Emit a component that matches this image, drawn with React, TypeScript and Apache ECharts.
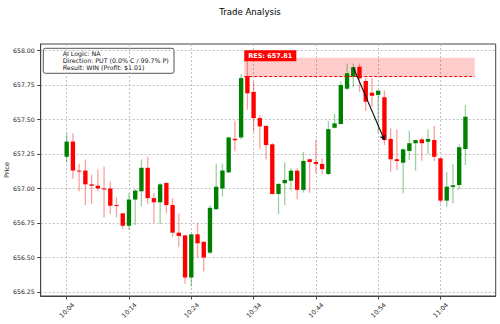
import React, { useEffect, useRef } from 'react';
import * as echarts from 'echarts';

const times = [
  '10:04','10:05','10:06','10:07','10:08','10:09','10:10','10:11','10:12','10:13',
  '10:14','10:15','10:16','10:17','10:18','10:19','10:20','10:21','10:22','10:23',
  '10:24','10:25','10:26','10:27','10:28','10:29','10:30','10:31','10:32','10:33',
  '10:34','10:35','10:36','10:37','10:38','10:39','10:40','10:41','10:42','10:43',
  '10:44','10:45','10:46','10:47','10:48','10:49','10:50','10:51','10:52','10:53',
  '10:54','10:55','10:56','10:57','10:58','10:59','11:00','11:01','11:02','11:03',
  '11:04','11:05','11:06','11:07','11:08',
];
const opens = [
  657.23, 657.34, 657.13, 657.13, 657.03, 657.02, 657.0, 657.0, 656.88, 656.82,
  656.73, 656.92, 656.98, 657.15, 656.93, 656.9, 657.04, 656.88, 656.68, 656.66,
  656.355, 656.668, 656.614, 656.535, 656.85, 657.0, 657.117, 657.36, 657.37, 657.815,
  657.7, 657.51, 657.453, 657.32, 656.96, 657.038, 657.056, 657.129, 656.99, 657.212,
  657.192, 657.178, 657.105, 657.44, 657.467, 657.723, 657.81, 657.882, 657.779, 657.694,
  657.678, 657.661, 657.359, 657.212, 657.187, 657.272, 657.328, 657.356, 657.339, 657.351,
  657.219, 656.912, 657.011, 657.025, 657.286,
];
const closes = [
  657.34, 657.13, 657.125, 657.03, 657.02, 657.0, 656.995, 656.875, 656.873, 656.73,
  656.92, 656.985, 657.15, 656.93, 656.9, 657.03, 656.88, 656.68, 656.656, 656.355,
  656.668, 656.603, 656.5, 656.86, 657.013, 657.13, 657.37, 657.35, 657.8, 657.69,
  657.51, 657.45, 657.315, 656.96, 657.033, 657.062, 657.129, 656.99, 657.2, 657.192,
  657.178, 657.14, 657.43, 657.472, 657.75, 657.835, 657.878, 657.798, 657.629, 657.672,
  657.709, 657.351, 657.212, 657.199, 657.284, 657.328, 657.351, 657.328, 657.359, 657.23,
  656.912, 657.013, 657.023, 657.299, 657.52,
];
const lows = [
  657.19, 657.07, 656.98, 656.88, 656.89, 656.98, 656.79, 656.815, 656.79, 656.705,
  656.7, 656.735, 656.87, 656.89, 656.75, 656.745, 656.82, 656.65, 656.575, 656.31,
  656.29, 656.5, 656.4, 656.525, 656.845, 656.94, 657.11, 657.27, 657.355, 657.57,
  657.41, 657.29, 657.21, 656.955, 656.815, 656.88, 656.985, 656.92, 656.97, 656.97,
  657.11, 657.105, 657.098, 657.436, 657.465, 657.714, 657.735, 657.7, 657.562, 657.594,
  657.4, 657.315, 657.122, 657.134, 656.965, 657.207, 657.129, 657.201, 657.25, 657.2,
  656.894, 656.868, 656.893, 656.99, 657.17,
];
const highs = [
  657.4, 657.4, 657.18, 657.21, 657.1, 657.14, 657.16, 657.05, 656.935, 656.825,
  656.965, 656.995, 657.21, 657.23, 656.965, 657.04, 657.045, 656.93, 656.82, 656.665,
  656.67, 656.75, 656.615, 656.88, 657.18, 657.18, 657.375, 657.49, 657.83, 657.945,
  657.775, 657.53, 657.46, 657.33, 657.04, 657.19, 657.146, 657.146, 657.265, 657.213,
  657.355, 657.22, 657.49, 657.54, 657.775, 657.905, 657.905, 657.905, 657.8, 657.8,
  657.71, 657.71, 657.436, 657.43, 657.29, 657.42, 657.352, 657.37, 657.43, 657.453,
  657.22, 657.12, 657.178, 657.32, 657.605,
];
const yTicks = [656.25, 656.5, 656.75, 657.0, 657.25, 657.5, 657.75, 658.0];
const xTickLabels = ['10:04', '10:14', '10:24', '10:34', '10:44', '10:54', '11:04'];
const resLevel = 657.81;
const resZoneTop = 657.947;
const resZoneFrom = 28.5;
const resZoneTo = 65.5;
const tradeEntry = { at: '10:50', price: 657.878 };
const tradeExit = { at: '10:55', price: 657.351 };
const infoLines = ['AI Logic: NA', 'Direction: PUT (0.0% C / 99.7% P)', 'Result: WIN (Profit: $1.01)'];
const resLabel = 'RES: 657.81';
const titleText = 'Trade Analysis';

const GREEN = '#008000';
const RED = '#ff0000';
const GREEN_WICK = 'rgba(0,128,0,0.38)';
const RED_WICK = 'rgba(255,0,0,0.38)';
const FONT = 'DejaVu Sans';

export default function App() {
  const ref = useRef<HTMLDivElement>(null);
  useEffect(() => {
    if (!ref.current) return;
    const chart = echarts.init(ref.current, undefined, { renderer: 'svg' });
    const ohlc = times.map((t, i) => [i, opens[i], closes[i], lows[i], highs[i]]);
    const xTickVals = xTickLabels.map((l) => times.indexOf(l));
    const option: any = {
      animation: false,
      backgroundColor: '#fff',
      textStyle: { fontFamily: FONT },
      title: {
        text: titleText,
        left: 'center',
        top: 2,
        textStyle: { fontFamily: FONT, fontSize: 8.6, fontWeight: 'normal', color: '#000' },
      },
      grid: {
        left: 40.7,
        right: 4.3,
        top: 44,
        bottom: 28,
        containLabel: false,
        outerBoundsMode: 'none',
        show: true,
        borderColor: '#444',
        borderWidth: 1,
        backgroundColor: '#fff',
      },
      xAxis: {
        type: 'value',
        min: -4.17,
        max: 68.86,
        axisLine: { show: true, onZero: false, lineStyle: { color: '#444', width: 1 } },
        axisTick: { show: true, customValues: xTickVals, length: 3.5, lineStyle: { color: '#444' } },
        axisLabel: {
          customValues: xTickVals,
          formatter: (v: number) => times[Math.round(v)],
          rotate: 45,
          align: 'center',
          verticalAlign: 'middle',
          fontSize: 6.3,
          color: '#222',
          fontFamily: FONT,
          margin: 14,
        },
        splitLine: { show: true, lineStyle: { type: [2, 2], color: '#b0b0b0', width: 0.8 } },
      },
      yAxis: {
        type: 'value',
        min: 656.221,
        max: 658.047,
        name: 'Price',
        nameLocation: 'middle',
        nameGap: 30,
        nameRotate: 90,
        nameMoveOverlap: false,
        nameTextStyle: { fontSize: 6.5, color: '#222', fontFamily: FONT },
        axisLine: { show: true, onZero: false, lineStyle: { color: '#444', width: 1 } },
        axisTick: { show: true, customValues: yTicks, length: 3.5, lineStyle: { color: '#444' } },
        axisLabel: {
          customValues: yTicks,
          formatter: (v: number) => v.toFixed(2),
          fontSize: 6.2,
          color: '#222',
          fontFamily: FONT,
          margin: 6,
        },
        splitLine: { show: true, lineStyle: { type: [2, 2], color: '#b0b0b0', width: 0.8 } },
      },
      series: [
        {
          type: 'custom',
          name: 'candles',
          data: ohlc,
          encode: { x: 0, y: [1, 2, 3, 4] },
          z: 3,
          renderItem: (params: any, api: any) => {
            const x = api.value(0);
            const o = api.value(1);
            const c = api.value(2);
            const l = api.value(3);
            const h = api.value(4);
            const pO = api.coord([x, o]);
            const pC = api.coord([x, c]);
            const pL = api.coord([x, l]);
            const pH = api.coord([x, h]);
            const up = c >= o;
            const w = api.size([0.7, 0])[0];
            const top = Math.min(pO[1], pC[1]);
            const bot = Math.max(pO[1], pC[1]);
            return {
              type: 'group',
              children: [
                {
                  type: 'line',
                  shape: { x1: pH[0], y1: pH[1], x2: pL[0], y2: pL[1] },
                  style: { stroke: up ? GREEN_WICK : RED_WICK, lineWidth: 1.3 },
                },
                {
                  type: 'rect',
                  shape: { x: pO[0] - w / 2, y: top, width: w, height: Math.max(bot - top, 1) },
                  style: { fill: up ? GREEN : RED },
                },
              ],
            };
          },
          markArea: {
            silent: true,
            itemStyle: { color: 'rgba(255,0,0,0.2)' },
            data: [[{ coord: [resZoneFrom, resLevel] }, { coord: [resZoneTo, resZoneTop] }]],
          },
        },
        {
          type: 'line',
          name: 'annotations',
          data: [],
          z: 4,
          markLine: {
            silent: true,
            label: { show: false },
            data: [
              [
                {
                  coord: [resZoneFrom, resLevel],
                  symbol: 'none',
                  lineStyle: { color: RED, type: [3, 2], width: 1 },
                },
                { coord: [resZoneTo, resLevel], symbol: 'none' },
              ],
              [
                {
                  coord: [times.indexOf(tradeEntry.at), tradeEntry.price],
                  symbol: 'none',
                  lineStyle: { color: '#111', type: 'solid', width: 1.1 },
                },
                { coord: [times.indexOf(tradeExit.at), tradeExit.price], symbol: 'arrow', symbolSize: 5 },
              ],
            ],
          },
          markPoint: {
            silent: true,
            symbol: 'rect',
            symbolSize: 0,
            data: [{
              coord: [resZoneFrom, resZoneTop],
              label: {
                show: true,
                formatter: resLabel,
                position: [0, 0],
                align: 'left',
                verticalAlign: 'bottom',
                offset: [0, 3.4],
                backgroundColor: RED,
                padding: [2.2, 4, 1.8, 4],
                color: '#fff',
                fontWeight: 'bold',
                fontSize: 6.5,
                fontFamily: FONT,
              },
            }],
          },
        },
      ],
      graphic: [
        {
          id: 'info',
          type: 'group',
          z: 100,
          children: [
            {
              type: 'rect',
              shape: { x: 43.3, y: 48.3, width: 130.7, height: 25, r: 2 },
              style: { fill: 'rgba(255,255,255,0.92)', stroke: '#555', lineWidth: 1 },
            },
            ...infoLines.map((line, k) => ({
              type: 'text',
              x: 62.7,
              y: 53.6 + k * 6.7,
              style: {
                text: line,
                fontSize: 6.3,
                fontFamily: FONT,
                fill: '#111',
                verticalAlign: 'middle',
              },
            })),
          ],
        },
      ],
    };
    chart.setOption(option);
    return () => chart.dispose();
  }, []);
  return (
    <div
      ref={ref}
      style={{ position: 'fixed', left: 0, top: 0, width: 500, height: 324 }}
    />
  );
}
